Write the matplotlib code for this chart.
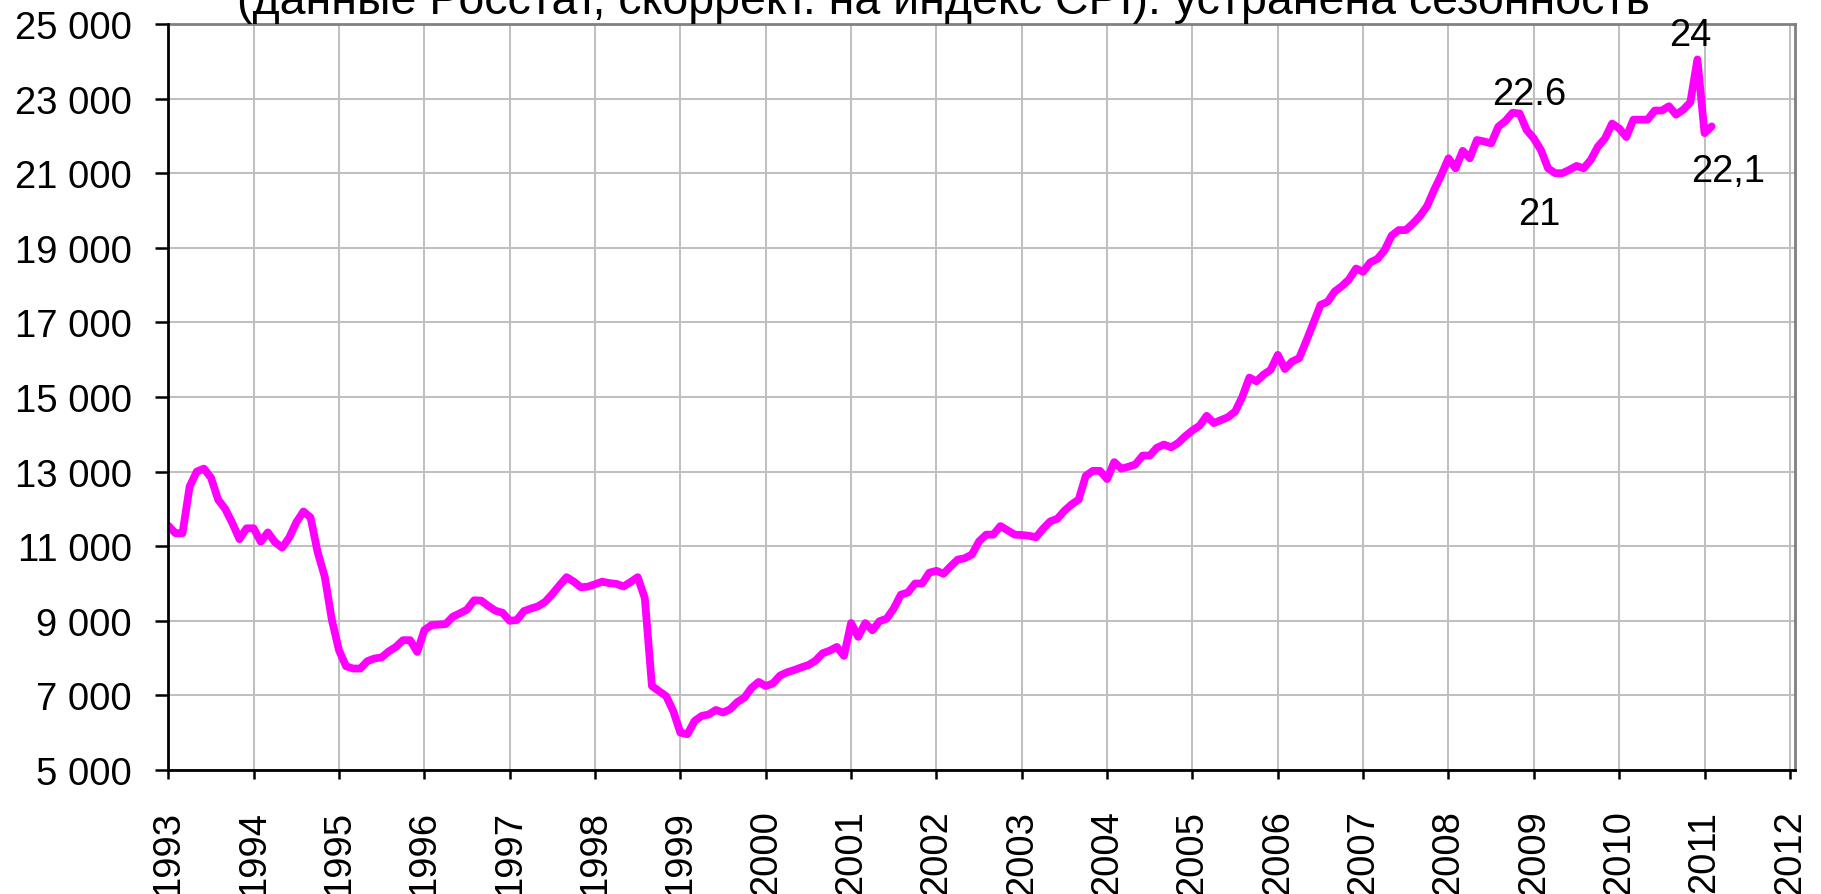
import numpy as np
import matplotlib
matplotlib.use("Agg")
import matplotlib.pyplot as plt
from matplotlib.ticker import FuncFormatter

plt.rcParams['font.family'] = ['Liberation Sans', 'DejaVu Sans']

title_text = "(данные Росстат, скоррект. на индекс CPI): устранена сезонность"

# monthly values, Jan..Dec
v1993 = [11550, 11350, 11350, 12600, 13000, 13080, 12840, 12250, 12000, 11620, 11190, 11480]
v1994 = [11480, 11120, 11370, 11110, 10960, 11230, 11640, 11930, 11770, 10840, 10180, 9020]
v1995 = [8210, 7780, 7720, 7720, 7920, 7990, 8020, 8180, 8300, 8480, 8480, 8165]
v1996 = [8750, 8885, 8900, 8910, 9110, 9200, 9300, 9550, 9540, 9395, 9270, 9215]
v1997 = [9000, 9020, 9260, 9330, 9390, 9510, 9720, 9950, 10170, 10050, 9900, 9915]
v1998 = [9980, 10050, 10010, 9990, 9920, 10040, 10170, 9610, 7250, 7115, 6980, 6580]
v1999 = [6000, 5960, 6315, 6450, 6490, 6610, 6540, 6630, 6820, 6940, 7200, 7360]
v2000 = [7250, 7320, 7530, 7620, 7680, 7750, 7815, 7930, 8130, 8200, 8300, 8060]
v2001 = [8940, 8570, 8940, 8745, 8990, 9055, 9330, 9700, 9760, 10000, 10000, 10290]
v2002 = [10340, 10260, 10460, 10640, 10680, 10780, 11130, 11310, 11310, 11540, 11425, 11310]
v2003 = [11300, 11280, 11240, 11470, 11665, 11735, 11950, 12120, 12250, 12885, 13020, 13020]
v2004 = [12800, 13255, 13080, 13130, 13195, 13430, 13430, 13640, 13725, 13650, 13770, 13950]
v2005 = [14105, 14230, 14495, 14300, 14380, 14460, 14610, 15000, 15520, 15420, 15600, 15730]
v2006 = [16130, 15750, 15950, 16040, 16500, 16980, 17470, 17550, 17830, 17970, 18150, 18445]
v2007 = [18355, 18610, 18700, 18930, 19325, 19475, 19475, 19650, 19855, 20120, 20560, 20955]
v2008 = [21400, 21130, 21600, 21400, 21890, 21850, 21800, 22245, 22400, 22620, 22600, 22155]
v2009 = [21930, 21620, 21130, 21000, 21000, 21090, 21195, 21130, 21355, 21710, 21930, 22330]
v2010 = [22200, 21970, 22435, 22435, 22435, 22680, 22680, 22795, 22570, 22700, 22900, 24050]
v2011 = [22075, 22255]

series = (v1993 + v1994 + v1995 + v1996 + v1997 + v1998 + v1999 + v2000 + v2001
          + v2002 + v2003 + v2004 + v2005 + v2006 + v2007 + v2008 + v2009 + v2010 + v2011)
start_year = 1993
x = start_year + np.arange(len(series)) / 12.0

year_ticks = list(range(1993, 2013))
y_ticks = list(range(5000, 25001, 2000))

ann_texts = ["22.6", "21", "24", "22,1"]
ann_x = [2008.95, 2009.06, 2010.83, 2011.28]
ann_y = [22855, 19640, 24440, 20800]

fig = plt.figure(figsize=(18.21, 8.95), dpi=100)
ax = fig.add_axes([168.3 / 1821, 1 - 771 / 895, (1795 - 168.3) / 1821, (771 - 25) / 895])

ax.plot(x, series, color='#FF00FF', lw=5.6, solid_joinstyle='round',
        solid_capstyle='round', zorder=3)

ax.set_xlim(1993, 2012.06)
ax.set_ylim(5000, 25000)
ax.set_xticks(year_ticks)
ax.set_xticklabels([str(y) for y in year_ticks], rotation=90)
ax.set_yticks(y_ticks)
ax.yaxis.set_major_formatter(FuncFormatter(lambda v, p: f"{int(v):,}".replace(",", " ")))

ax.grid(True, color='#c0c0c0', lw=1.45, zorder=0)
ax.set_axisbelow(True)
for s in ['left', 'bottom']:
    ax.spines[s].set_color('black')
    ax.spines[s].set_linewidth(2.0)
    ax.spines[s].set_zorder(4)
for s in ['top', 'right']:
    ax.spines[s].set_color('#808080')
    ax.spines[s].set_linewidth(2.0)

ax.tick_params(axis='x', direction='out', length=6.5, width=1.8, pad=22, labelsize=27.5)
ax.tick_params(axis='y', direction='out', length=9.4, width=1.8, pad=17, labelsize=27.5)

for t, xx, yy in zip(ann_texts, ann_x, ann_y):
    ax.text(xx, yy, t, ha='center', va='baseline', fontsize=27.5, zorder=5)

fig.text(0.518, 1 - 14 / 895, title_text, ha='center', va='baseline', fontsize=33.5)

fig.savefig("out.png", dpi=100)
